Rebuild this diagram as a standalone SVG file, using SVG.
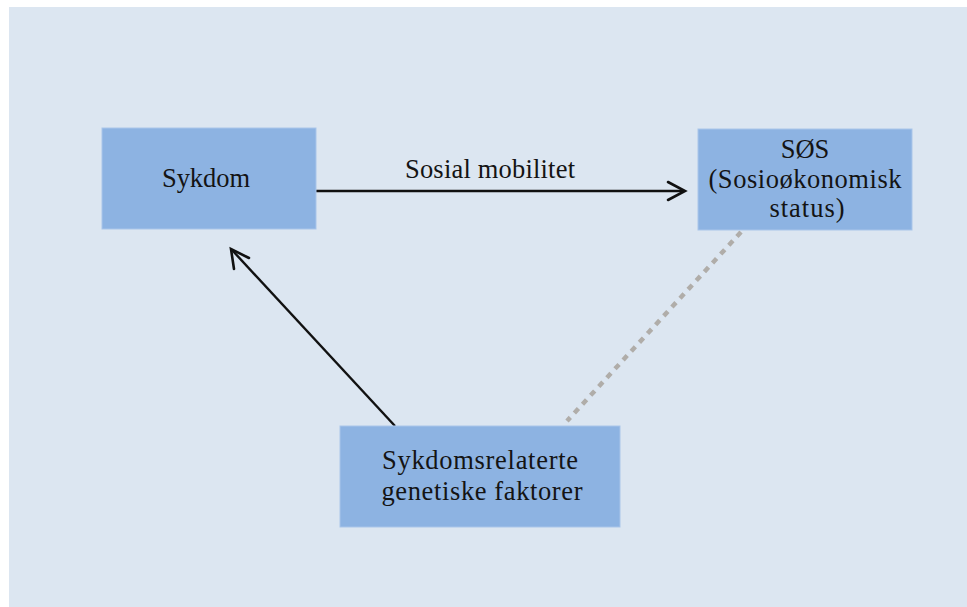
<svg xmlns="http://www.w3.org/2000/svg" width="967" height="607" viewBox="0 0 967 607">
  <style>
    .box { fill: #8db3e2; stroke: #a9c5ea; stroke-width: 1; }
    .lbl { font-family: "Liberation Serif", "DejaVu Serif", serif; font-size: 26.5px; fill: #141414; text-anchor: middle; }
    .arrow { stroke: #111111; stroke-width: 2.4; fill: none; }
    .head { stroke: #111111; stroke-width: 2.6; fill: none; stroke-linecap: round; stroke-linejoin: miter; }
    .dotted { stroke: #b0ada9; stroke-width: 4.5; stroke-dasharray: 6 6; fill: none; }
  </style>
  <!-- panel -->
  <rect x="0" y="0" width="967" height="607" fill="#ffffff"/>
  <rect x="9" y="7" width="958" height="600" fill="#dce6f1"/>

  <g id="connectors">
    <!-- Sykdom -> SØS -->
    <line class="arrow" x1="316" y1="191" x2="684" y2="191"/>
    <polyline class="head" points="668,182 685,191 668,200"/>
    <!-- genetic factors -> Sykdom -->
    <line class="arrow" x1="395" y1="426" x2="232" y2="250"/>
    <polyline class="head" points="234,269 231,249 249,258"/>
    <!-- genetic factors ... SØS -->
    <line class="dotted" x1="741" y1="232" x2="567" y2="421"/>
    <text class="lbl" x="490" y="178" textLength="170">Sosial mobilitet</text>
  </g>

  <g id="sykdom">
    <rect class="box" x="102" y="128" width="214" height="101"/>
    <text class="lbl" x="206" y="187" textLength="88">Sykdom</text>
  </g>

  <g id="sos">
    <rect class="box" x="698" y="129" width="214" height="101"/>
    <text class="lbl" x="805" y="158">SØS</text>
    <text class="lbl" x="805" y="188" textLength="193">(Sosioøkonomisk</text>
    <text class="lbl" x="807" y="217" textLength="75">status)</text>
  </g>

  <g id="genetikk">
    <rect class="box" x="340" y="426" width="280" height="101"/>
    <text class="lbl" x="480" y="469" textLength="196">Sykdomsrelaterte</text>
    <text class="lbl" x="482" y="500" textLength="201">genetiske faktorer</text>
  </g>
</svg>
